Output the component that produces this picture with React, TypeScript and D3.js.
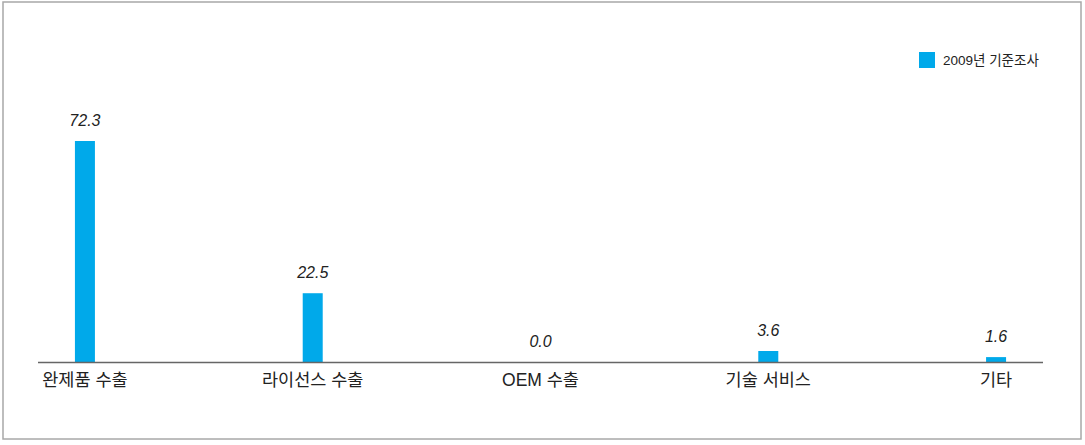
import React from "react";
import * as d3 from "d3";

const categories = ["완제품 수출", "라이선스 수출", "OEM 수출", "기술 서비스", "기타"];
const values = [72.3, 22.5, 0.0, 3.6, 1.6];
const seriesName = "2009년 기준조사";

const W = 1085;
const H = 445;

export default function App() {
  const x = d3.scalePoint<string>().domain(categories).range([38, 1043]).padding(0.206);
  const y = d3.scaleLinear().domain([0, 72.3]).range([362, 141]);
  const barW = 20;
  const font = "'Liberation Sans', 'Noto Sans CJK KR', sans-serif";
  return (
    <div style={{ position: "fixed", left: 0, top: 0 }}>
      <svg width={W} height={H} style={{ display: "block" }}>
        <rect x={3} y={2} width={1078} height={437} fill="#fff" stroke="#a8a8a8" strokeWidth={1.5} />
        {values.map((v, i) => {
          const cx = x(categories[i])!;
          return (
            <g key={i}>
              {v > 0 && (
                <rect x={cx - barW / 2} y={y(v)} width={barW} height={y(0) - y(v)} fill="#00a9ea" />
              )}
              <text
                x={cx}
                y={y(v) - 15}
                textAnchor="middle"
                fontFamily={font}
                fontStyle="italic"
                fontSize={16}
                fill="#222"
              >
                {v.toFixed(1)}
              </text>
              <text
                x={cx}
                y={386}
                textAnchor="middle"
                fontFamily={font}
                fontSize={17.5}
                fill="#222"
              >
                {categories[i]}
              </text>
            </g>
          );
        })}
        <line x1={38} x2={1043} y1={y(0) + 0.5} y2={y(0) + 0.5} stroke="#666" strokeWidth={1.5} />
        <rect x={919} y={52} width={16} height={16} fill="#00a9ea" />
        <text x={943} y={65} fontFamily={font} fontSize={13.5} fill="#222">
          {seriesName}
        </text>
      </svg>
    </div>
  );
}
